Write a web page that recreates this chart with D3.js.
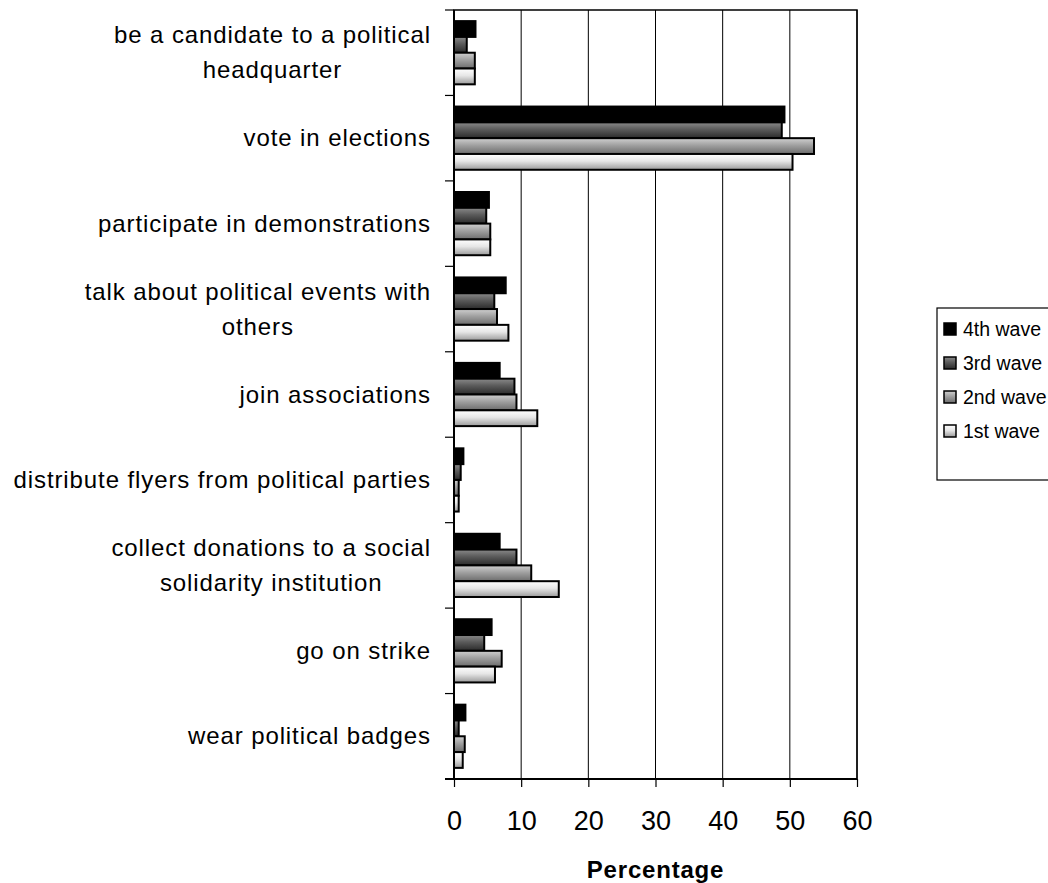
<!DOCTYPE html>
<html>
<head>
<meta charset="utf-8">
<script src="https://cdn.jsdelivr.net/npm/d3@7"></script>
<style>
  html, body { margin: 0; padding: 0; background: #fff; }
  svg { display: block; font-family: "Liberation Sans", Arial, sans-serif; }
</style>
</head>
<body>
<svg id="chart" width="1048" height="883"></svg>
<script>
// Forms of political participation (top to bottom), each label split into display lines
const categories = [
  ["be a candidate to a political", "headquarter"],
  ["vote in elections"],
  ["participate in demonstrations"],
  ["talk about political events with", "others"],
  ["join associations"],
  ["distribute flyers from political parties"],
  ["collect donations to a social", "solidarity institution"],
  ["go on strike"],
  ["wear political badges"]
];

// Series, drawn top to bottom within each category
const seriesNames = ["4th wave", "3rd wave", "2nd wave", "1st wave"];
const wave4 = [3.2, 49.2, 5.2, 7.7, 6.8, 1.4, 6.8, 5.6, 1.7];
const wave3 = [1.9, 48.8, 4.8, 6.0, 9.0, 1.0, 9.3, 4.5, 0.7];
const wave2 = [3.1, 53.6, 5.4, 6.4, 9.3, 0.7, 11.5, 7.1, 1.6];
const wave1 = [3.1, 50.4, 5.4, 8.1, 12.4, 0.7, 15.6, 6.1, 1.3];
const seriesValues = [wave4, wave3, wave2, wave1];

const xTicks = [0, 10, 20, 30, 40, 50, 60];
const xTitle = "Percentage";

const svg = d3.select("#chart");
const plot = { left: 454, right: 857, top: 10, bottom: 779 };

const x = d3.scaleLinear().domain([0, 60]).range([plot.left, plot.right]);
const y = d3.scaleBand().domain(d3.range(categories.length)).range([plot.top, plot.bottom]).paddingInner(0.26).paddingOuter(0.13);
const ySub = d3.scaleBand().domain(d3.range(seriesNames.length)).range([0, y.bandwidth()]);

// Gradient fills per wave: solid black, then dark, mid and light greys
const defs = svg.append("defs");
const gradStops = [
  null,
  [["0%", "#8a8a8a"], ["45%", "#5a5a5a"], ["100%", "#2a2a2a"]],
  [["0%", "#d0d0d0"], ["45%", "#a0a0a0"], ["100%", "#6c6c6c"]],
  [["0%", "#ffffff"], ["45%", "#e6e6e6"], ["100%", "#9a9a9a"]]
];
const fills = gradStops.map((stops, i) => {
  if (!stops) return "#000";
  const g = defs.append("linearGradient").attr("id", "g" + i)
    .attr("x1", 0).attr("y1", 0).attr("x2", 0).attr("y2", 1);
  stops.forEach(s => g.append("stop").attr("offset", s[0]).attr("stop-color", s[1]));
  return "url(#g" + i + ")";
});

// Vertical gridlines
svg.append("g").selectAll("line").data(xTicks.slice(1)).join("line")
  .attr("x1", d => x(d)).attr("x2", d => x(d))
  .attr("y1", plot.top).attr("y2", plot.bottom)
  .attr("stroke", "#000").attr("stroke-width", 1);

// Plot border
svg.append("rect")
  .attr("x", plot.left).attr("y", plot.top)
  .attr("width", plot.right - plot.left).attr("height", plot.bottom - plot.top)
  .attr("fill", "none").attr("stroke", "#000").attr("stroke-width", 1.5);

// Bars
const rows = svg.append("g").selectAll("g").data(categories).join("g")
  .attr("transform", (d, i) => `translate(0,${y(i)})`);
rows.selectAll("rect").data((d, i) => seriesValues.map((s, k) => ({ k, v: s[i] }))).join("rect")
  .attr("x", x(0))
  .attr("y", d => ySub(d.k))
  .attr("width", d => x(d.v) - x(0))
  .attr("height", ySub.bandwidth())
  .attr("fill", d => fills[d.k])
  .attr("stroke", "#000").attr("stroke-width", 2);

// Left axis: line and category boundary ticks
const boundaries = d3.range(categories.length + 1).map(i => plot.top + i * (plot.bottom - plot.top) / categories.length);
svg.append("line").attr("x1", plot.left).attr("x2", plot.left)
  .attr("y1", plot.top).attr("y2", plot.bottom).attr("stroke", "#000").attr("stroke-width", 2);
svg.append("g").selectAll("line").data(boundaries).join("line")
  .attr("x1", plot.left - 9).attr("x2", plot.left)
  .attr("y1", d => d).attr("y2", d => d)
  .attr("stroke", "#000").attr("stroke-width", 1.2);

// Bottom axis
const xAxis = d3.axisBottom(x).tickValues(xTicks).tickSize(8).tickPadding(24).tickSizeOuter(0);
const gx = svg.append("g").attr("transform", `translate(0,${plot.bottom})`).call(xAxis);
gx.select(".domain").attr("d", `M${plot.left - 9},0H${plot.right}`).attr("stroke-width", 2);
gx.selectAll(".tick line").attr("stroke-width", 1.2);
gx.selectAll("text").attr("font-family", "Liberation Sans, Arial, sans-serif")
  .attr("font-size", 27).attr("fill", "#000");

svg.append("text").attr("x", x(30)).attr("y", 878)
  .attr("text-anchor", "middle").attr("font-weight", "bold").attr("font-size", 24)
  .attr("letter-spacing", 0.8)
  .text(xTitle);

// Category labels: block right-aligned, lines centred within the block
const labelRight = 431;
const lineH = 35;
categories.forEach((lines, i) => {
  const cy = y(i) + y.bandwidth() / 2;
  const g = svg.append("g");
  const texts = lines.map((t, j) => g.append("text")
    .attr("font-size", 24).attr("letter-spacing", 0.9).attr("fill", "#000")
    .attr("y", cy + (j - (lines.length - 1) / 2) * lineH + 8)
    .text(t));
  const widths = texts.map(t => t.node().getComputedTextLength());
  const w = d3.max(widths);
  const center = labelRight - w / 2;
  texts.forEach(t => t.attr("x", center).attr("text-anchor", "middle"));
});

// Legend
const leg = svg.append("g");
leg.append("rect").attr("x", 937).attr("y", 308).attr("width", 120).attr("height", 172)
  .attr("fill", "#fff").attr("stroke", "#000").attr("stroke-width", 1.2);
seriesNames.forEach((name, k) => {
  const cy = 329 + k * 34;
  leg.append("rect").attr("x", 944).attr("y", cy - 6).attr("width", 12).attr("height", 12)
    .attr("fill", fills[k]).attr("stroke", "#000").attr("stroke-width", 1.5);
  leg.append("text").attr("x", 963).attr("y", cy + 7).attr("font-size", 19.5).text(name);
});
</script>
</body>
</html>
